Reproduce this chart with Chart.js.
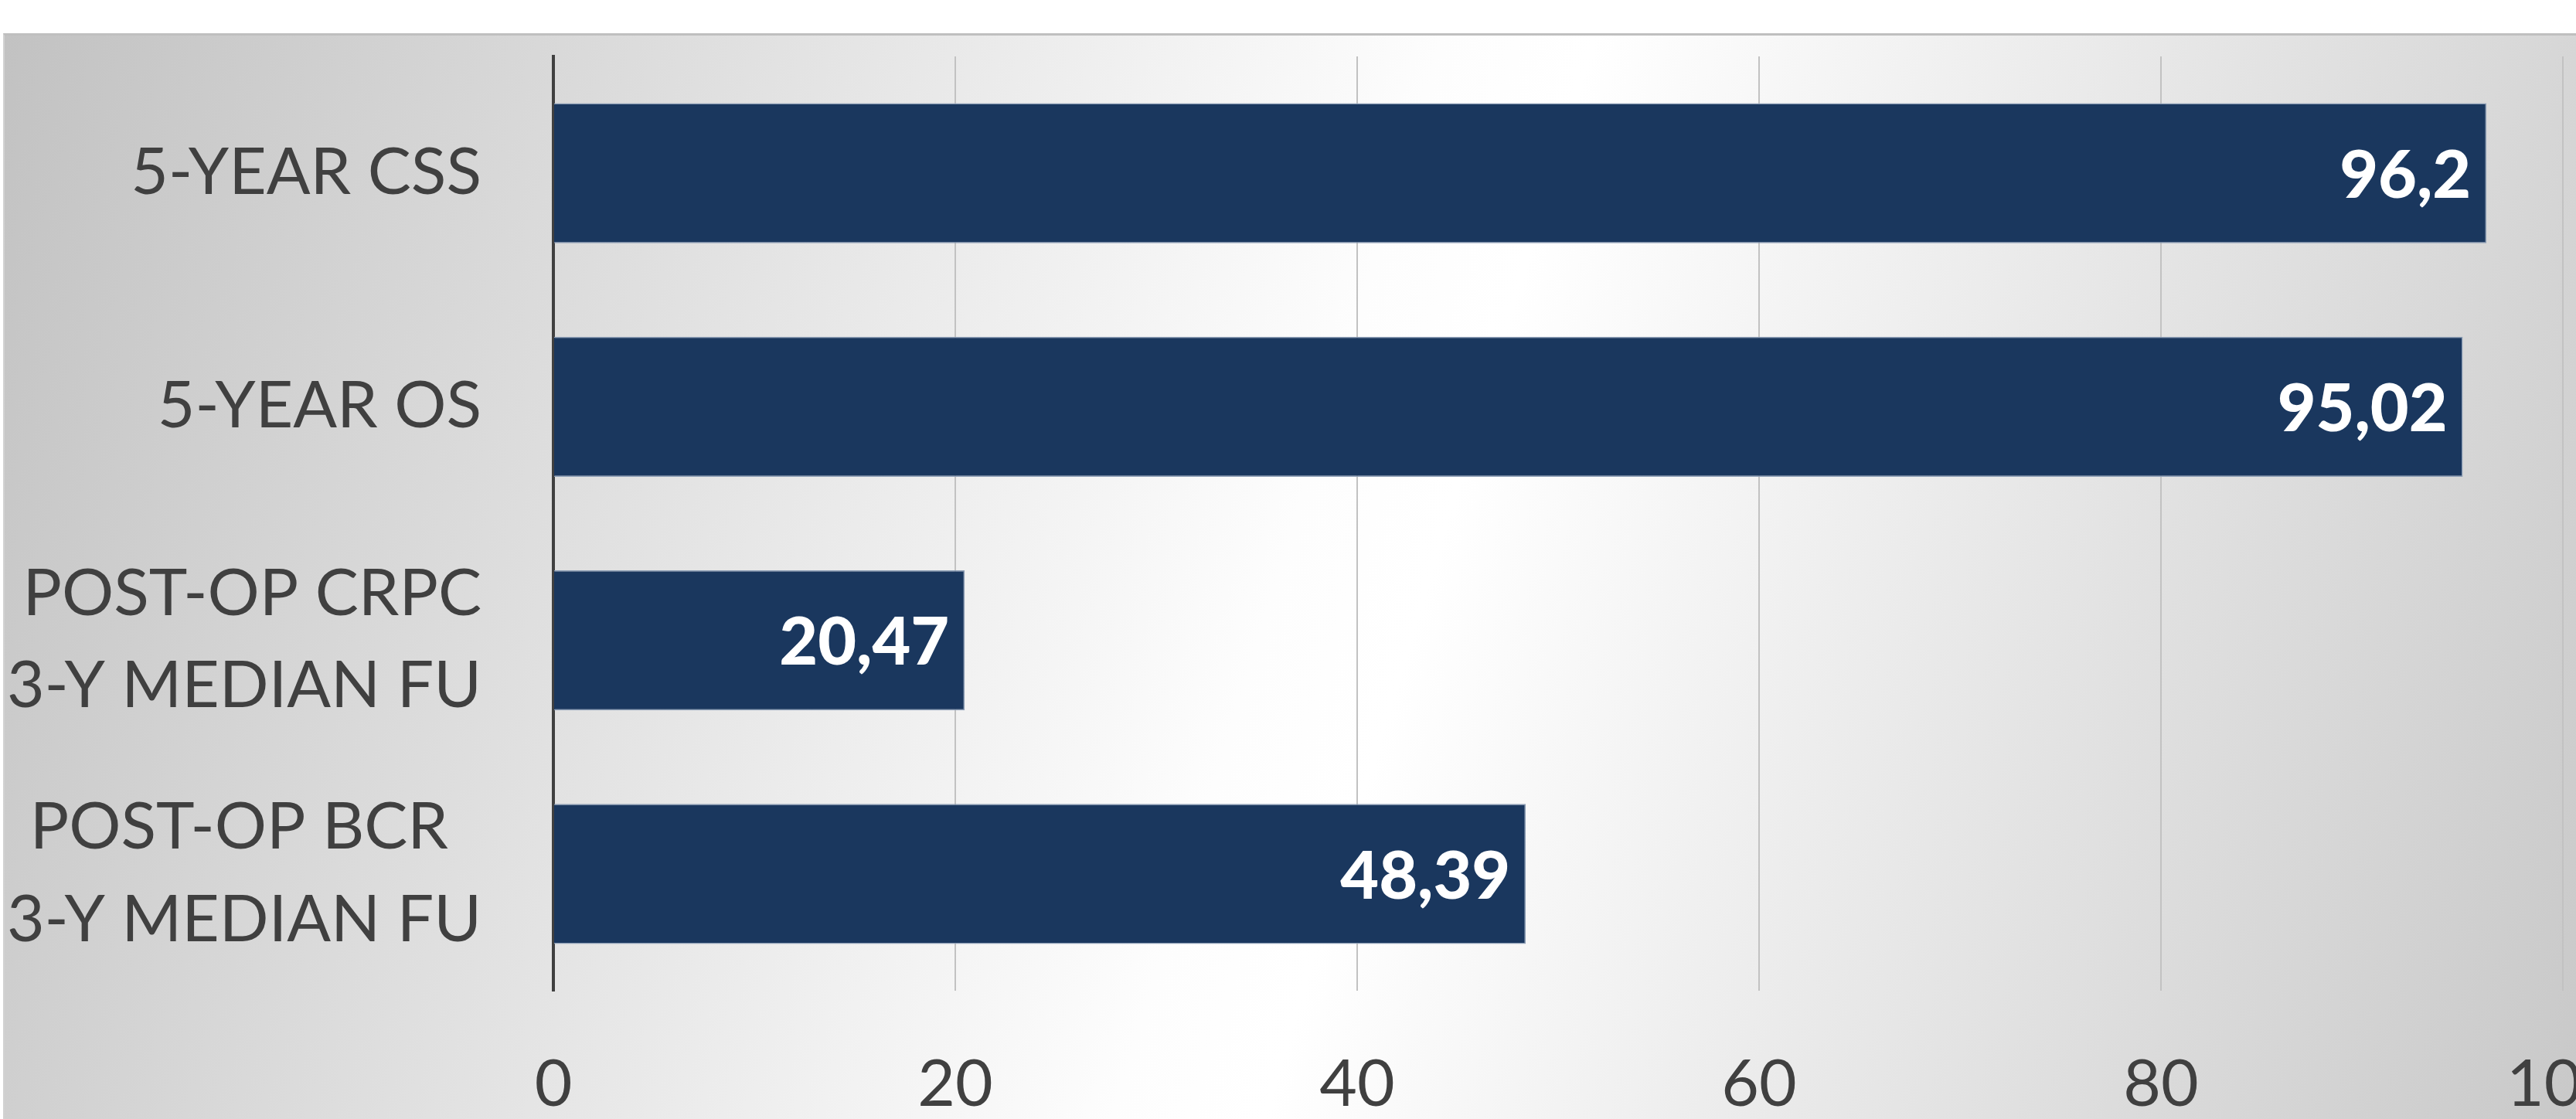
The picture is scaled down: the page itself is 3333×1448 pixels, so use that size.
<!DOCTYPE html>
<html>
<head>
<meta charset="utf-8">
<script src="https://cdn.jsdelivr.net/npm/chart.js@4.4.1/dist/chart.umd.min.js"></script>
<style>
    html, body { margin: 0; padding: 0; background: #ffffff; overflow: hidden; }
    #stage { position: relative; width: 3333px; height: 1448px; overflow: hidden; }
    /* grey/white gradient panel behind the plot, runs off the right and bottom edge */
    #panel {
        position: absolute; left: 4px; top: 43px; width: 3500px; height: 1500px;
        border-top: 3px solid #bfbfbf; border-left: 2px solid #d2d2d2;
        background: linear-gradient(107deg, #c2c2c2 0%, #fdfdfd 47%, #ffffff 52%, #c2c2c2 100%);
    }
    #wrap { position: absolute; left: 0; top: 0; width: 3420px; height: 1448px; }
</style>
</head>
<body>
<div id="stage">
    <div id="panel"></div>
    <div id="wrap"><canvas id="outcomeBars"></canvas></div>
</div>
<script>
/* ============================================================================
   Outcome rates - horizontal bar chart
   - value labels drawn inside the bar end (comma decimals)
   - dark zero line, light vertical gridlines
   ============================================================================ */

const categoryLabels = [
    '5-YEAR CSS',
    '5-YEAR OS',
    ['POST-OP CRPC', '3-Y MEDIAN FU'],
    ['POST-OP BCR', '3-Y MEDIAN FU']
];
const rateValues = [96.2, 95.02, 20.47, 48.39];
const valueTicks = [0, 20, 40, 60, 80, 100];

const TEXT_COLOR = '#404040';
const BAR_COLOR = '#1a375e';
const FONT = 'Lato';
const TICK_SIZE = 84;

/**
 * Pads the shorter lines of a multi-line label with trailing spaces so the
 * lines look centred on each other while the block stays right-aligned
 */
function centerLines(label) {
    if (!Array.isArray(label)) return label;
    const ctx = document.createElement('canvas').getContext('2d');
    ctx.font = `${TICK_SIZE}px ${FONT}`;
    const widest = Math.max(...label.map(l => ctx.measureText(l).width));
    const space = ctx.measureText(' ').width;
    return label.map(l => {
        const n = Math.round((widest - ctx.measureText(l).width) / 2 / space);
        return l + ' '.repeat(n);
    });
}

/**
 * Plugin to draw the value labels inside the bar end
 */
function valueLabelsPlugin(values) {
    return {
        id: 'valueLabels',
        afterDatasetsDraw(chart) {
            const { ctx } = chart;
            const meta = chart.getDatasetMeta(0);

            ctx.save();
            ctx.font = `900 86px ${FONT}`;
            ctx.fillStyle = '#ffffff';
            ctx.textAlign = 'right';
            ctx.textBaseline = 'middle';

            meta.data.forEach((bar, i) => {
                const label = String(values[i]).replace('.', ',');
                ctx.fillText(label, bar.x - 20, bar.y + 4);
            });

            ctx.restore();
        }
    };
}

const canvas = document.getElementById('outcomeBars');

new Chart(canvas.getContext('2d'), {
    type: 'bar',
    data: {
        labels: categoryLabels.map(centerLines),
        datasets: [{
            data: rateValues,
            backgroundColor: BAR_COLOR,
            borderColor: '#8b9db5',
            borderWidth: 1.5,
            barPercentage: 0.6,
            categoryPercentage: 1.0
        }]
    },
    options: {
        indexAxis: 'y',
        responsive: true,
        maintainAspectRatio: false,
        animation: false,
        layout: { padding: { top: 73, right: 104, left: 0, bottom: 0 } },
        scales: {
            x: {
                min: valueTicks[0],
                max: valueTicks[valueTicks.length - 1],
                afterBuildTicks: (scale) => { scale.ticks = valueTicks.map(v => ({ value: v })); },
                afterFit: (scale) => {
                    scale.height = 166;
                    scale.paddingLeft = 0;
                    scale.paddingRight = 0;
                },
                border: { display: false },
                grid: {
                    drawTicks: false,
                    color: (c) => c.tick && c.tick.value === 0 ? 'rgba(0,0,0,0)' : '#c2c2c2',
                    lineWidth: 2
                },
                ticks: {
                    padding: 72,
                    color: TEXT_COLOR,
                    font: { family: FONT, size: TICK_SIZE, lineHeight: 1.2 }
                }
            },
            y: {
                afterFit: (scale) => {
                    scale.width = 716;
                    scale.paddingTop = 0;
                    scale.paddingBottom = 0;
                },
                border: { display: true, color: TEXT_COLOR, width: 4 },
                grid: { display: false, drawTicks: false },
                ticks: {
                    padding: 93,
                    color: TEXT_COLOR,
                    font: { family: FONT, size: TICK_SIZE, lineHeight: 1.42 }
                }
            }
        },
        plugins: {
            legend: { display: false },
            tooltip: { enabled: false }
        }
    },
    plugins: [valueLabelsPlugin(rateValues)]
});
</script>
</body>
</html>
